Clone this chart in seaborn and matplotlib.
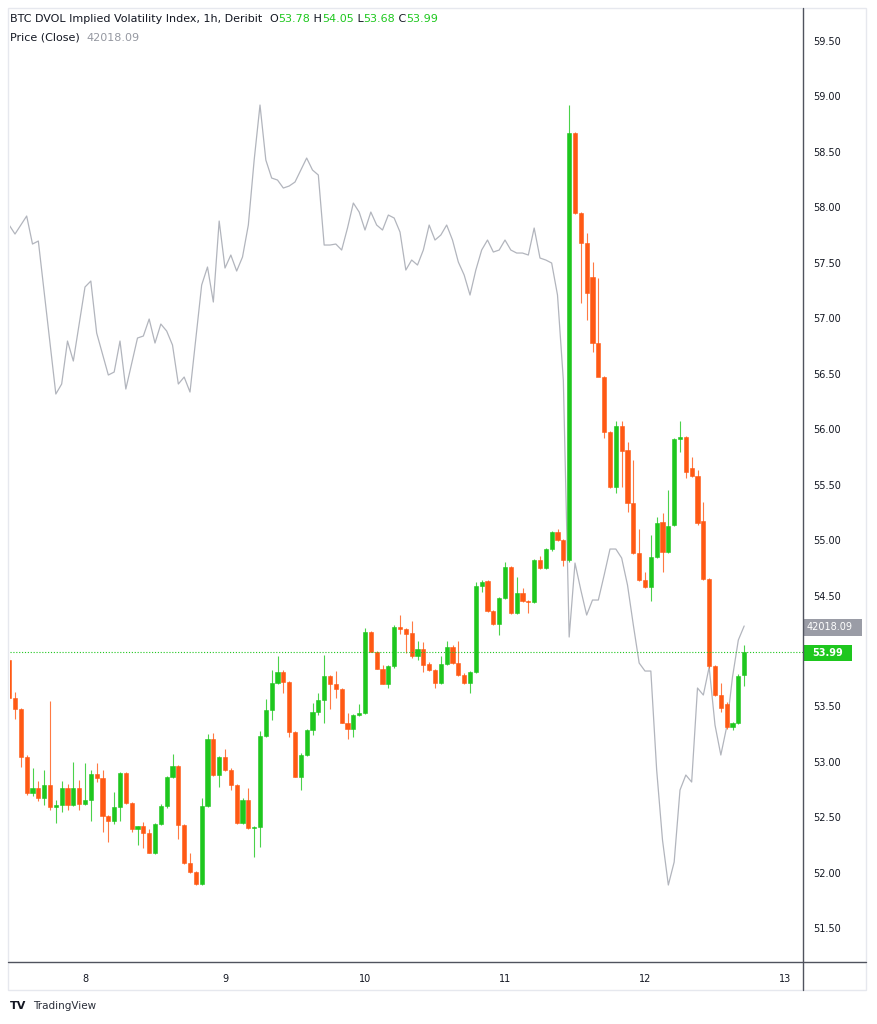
import numpy as np
import pandas as pd
import seaborn as sns
import matplotlib.pyplot as plt
import matplotlib.dates as mdates
from matplotlib.lines import Line2D
from matplotlib.patches import Rectangle

# BTC DVOL hourly candles, first bar 7th 11:00, last bar 12th 17:00
dvol_open = [53.92, 53.58, 53.48, 53.04, 52.72, 52.76, 52.67, 52.79, 52.59, 52.61,
             52.76, 52.61, 52.76, 52.62, 52.66, 52.89, 52.85, 52.51, 52.47, 52.59,
             52.90, 52.63, 52.39, 52.42, 52.36, 52.18, 52.44, 52.60, 52.86, 52.96,
             52.43, 52.09, 52.01, 51.90, 52.60, 53.21, 52.88, 53.04, 52.93, 52.79,
             52.45, 52.66, 52.40, 52.41, 53.23, 53.47, 53.71, 53.81, 53.72, 53.27,
             52.86, 53.06, 53.29, 53.45, 53.56, 53.77, 53.70, 53.66, 53.35, 53.30,
             53.42, 53.44, 54.17, 53.99, 53.84, 53.70, 53.86, 54.22, 54.20, 54.16,
             53.95, 54.02, 53.88, 53.83, 53.71, 53.88, 54.04, 53.89, 53.78, 53.71,
             53.81, 54.59, 54.63, 54.36, 54.24, 54.48, 54.76, 54.34, 54.52, 54.45,
             54.44, 54.82, 54.75, 54.92, 55.07, 55.00, 54.82, 58.67, 57.95, 57.68,
             57.37, 56.78, 56.47, 55.97, 55.48, 56.03, 55.81, 55.33, 54.88, 54.64,
             54.58, 54.85, 55.16, 54.89, 55.14, 55.91, 55.93, 55.65, 55.58, 55.17,
             54.65, 53.86, 53.60, 53.52, 53.31, 53.35, 53.78]
dvol_high = [53.95, 53.63, 53.49, 53.06, 52.94, 52.83, 52.93, 53.55, 52.66, 52.83,
             52.80, 53.00, 52.84, 52.99, 52.93, 52.99, 52.93, 52.52, 52.73, 52.91,
             52.91, 52.64, 52.42, 52.46, 52.39, 52.45, 52.62, 52.87, 53.07, 52.97,
             52.44, 52.18, 52.02, 52.67, 53.25, 53.26, 53.05, 53.12, 52.94, 52.80,
             52.67, 52.76, 52.42, 53.28, 53.57, 53.83, 53.95, 53.83, 53.73, 53.28,
             53.08, 53.30, 53.53, 53.62, 53.96, 53.78, 53.82, 53.67, 53.44, 53.43,
             53.52, 54.21, 54.18, 54.00, 53.87, 53.87, 54.23, 54.32, 54.21, 54.27,
             54.09, 54.08, 53.90, 53.84, 53.95, 54.09, 54.05, 54.09, 53.80, 53.82,
             54.62, 54.64, 54.64, 54.37, 54.49, 54.80, 54.77, 54.67, 54.57, 54.46,
             54.83, 54.86, 54.93, 55.08, 55.10, 55.01, 58.92, 58.68, 57.96, 57.77,
             57.51, 57.36, 56.48, 55.98, 56.07, 56.07, 55.88, 55.72, 55.10, 54.71,
             55.05, 55.21, 55.24, 55.45, 55.92, 56.07, 55.94, 55.75, 55.63, 55.34,
             54.66, 53.87, 53.71, 53.54, 53.36, 53.79, 54.05]
dvol_low = [53.55, 53.39, 52.95, 52.70, 52.69, 52.65, 52.61, 52.57, 52.45, 52.55,
            52.57, 52.60, 52.57, 52.61, 52.47, 52.82, 52.37, 52.28, 52.44, 52.47,
            52.62, 52.37, 52.25, 52.22, 52.18, 52.17, 52.43, 52.58, 52.85, 52.30,
            52.08, 52.00, 51.89, 51.89, 52.59, 52.87, 52.77, 52.92, 52.75, 52.44,
            52.44, 52.39, 52.14, 52.23, 53.22, 53.38, 53.70, 53.62, 53.22, 52.86,
            52.75, 53.05, 53.24, 53.42, 53.35, 53.48, 53.58, 53.35, 53.21, 53.22,
            53.41, 53.43, 53.99, 53.84, 53.70, 53.67, 53.85, 54.15, 53.98, 53.94,
            53.92, 53.81, 53.82, 53.67, 53.70, 53.87, 53.88, 53.77, 53.70, 53.62,
            53.80, 54.53, 54.35, 54.23, 54.14, 54.47, 54.33, 54.33, 54.44, 54.34,
            54.43, 54.74, 54.74, 54.90, 54.99, 54.77, 54.80, 57.94, 57.14, 56.98,
            56.70, 56.70, 55.92, 55.47, 55.42, 55.48, 55.25, 54.87, 54.63, 54.57,
            54.45, 54.84, 54.71, 54.88, 55.13, 55.79, 55.56, 55.57, 55.14, 54.64,
            53.85, 53.59, 53.45, 53.30, 53.29, 53.34, 53.68]
dvol_close = [53.58, 53.48, 53.04, 52.72, 52.76, 52.67, 52.79, 52.59, 52.61, 52.76,
              52.61, 52.76, 52.62, 52.66, 52.89, 52.85, 52.51, 52.47, 52.59, 52.90,
              52.63, 52.39, 52.42, 52.36, 52.18, 52.44, 52.60, 52.86, 52.96, 52.43,
              52.09, 52.01, 51.90, 52.60, 53.21, 52.88, 53.04, 52.93, 52.79, 52.45,
              52.66, 52.40, 52.41, 53.23, 53.47, 53.71, 53.81, 53.72, 53.27, 52.86,
              53.06, 53.29, 53.45, 53.56, 53.77, 53.70, 53.66, 53.35, 53.30, 53.42,
              53.44, 54.17, 53.99, 53.84, 53.70, 53.86, 54.22, 54.20, 54.15, 53.95,
              54.02, 53.87, 53.83, 53.71, 53.88, 54.04, 53.89, 53.78, 53.71, 53.81,
              54.59, 54.62, 54.36, 54.24, 54.48, 54.76, 54.34, 54.52, 54.45, 54.44,
              54.82, 54.75, 54.92, 55.07, 55.00, 54.82, 58.67, 57.95, 57.68, 57.23,
              56.78, 56.47, 55.97, 55.48, 56.03, 55.80, 55.33, 54.88, 54.64, 54.58,
              54.85, 55.15, 54.89, 55.13, 55.91, 55.93, 55.61, 55.58, 55.15, 54.65,
              53.86, 53.60, 53.49, 53.31, 53.35, 53.77, 53.99]

# BTC price (close) comparison line, hours counted from the first candle
price_hour = [0, 1, 3, 4, 5, 8, 9, 10, 11, 13, 14, 15, 17, 18, 19, 20, 22, 23, 24, 25,
              26, 27, 28, 29, 30, 31, 33, 34, 35, 36, 37, 38, 39, 40] + list(range(41, 127))
price_close = [43221, 43194, 43248, 43164, 43173, 42714, 42744, 42873, 42813, 43035,
               43053, 42897, 42771, 42780, 42873, 42729, 42882, 42888, 42939, 42867,
               42924, 42903, 42861, 42744, 42765, 42720, 43041, 43095, 42990, 43233,
               43092, 43131, 43083, 43125,
               43221, 43416, 43581, 43416, 43362, 43356, 43332, 43338, 43350, 43386,
               43422, 43386, 43371, 43161, 43161, 43164, 43146, 43212, 43287, 43260,
               43206, 43260, 43221, 43206, 43251, 43242, 43200, 43086, 43116, 43101,
               43146, 43221, 43176, 43191, 43221, 43176, 43110, 43071, 43011, 43086,
               43146, 43176, 43140, 43146, 43176, 43146, 43137, 43137, 43131, 43212,
               43122, 43116, 43107, 43011, 42756, 41985, 42207, 42126, 42051, 42096,
               42096, 42171, 42249, 42249, 42222, 42141, 42021, 41907, 41883, 41883,
               41586, 41376, 41241, 41310, 41526, 41571, 41550, 41832, 41811, 41895,
               41721, 41631, 41715, 41865, 41976, 42018.09]

price_ticks = [51.5, 52.0, 52.5, 53.0, 53.5, 54.0, 54.5, 55.0, 55.5, 56.0, 56.5,
               57.0, 57.5, 58.0, 58.5, 59.0, 59.5]
day_labels = ["8", "9", "10", "11", "12", "13"]

GREEN = "#1ec71e"
RED = "#ff5914"
TXT = "#131722"

sns.set_theme(style="white")
plt.rcParams["font.family"] = ["DejaVu Sans"]

W, H = 877, 1024
fig = plt.figure(figsize=(W / 100, H / 100), dpi=100)
fx = lambda x: x / W
fy = lambda y: 1 - y / H

ax = fig.add_axes([fx(10), fy(962), fx(803) - fx(10), fy(10) - fy(962)])
ax2 = ax.twinx()

start = pd.Timestamp("2022-01-07 11:00")
t_candle = mdates.date2num(pd.date_range(start, periods=len(dvol_close), freq="h"))
t_price = mdates.date2num(start + pd.to_timedelta(price_hour, unit="h"))

# grey BTC line on its own hidden scale
sns.lineplot(x=t_price, y=price_close, ax=ax2, color="#b2b5bd", linewidth=0.9)
ax2.set_ylim(41010.09, 43866.09)
ax2.set_yticks([])
ax2.set_ylabel("")

o = np.array(dvol_open)
c = np.array(dvol_close)
up = c >= o
cols = np.where(up, GREEN, RED)
ax.vlines(t_candle, dvol_low, dvol_high, colors=cols, linewidth=0.8, alpha=0.8)
ax.bar(t_candle, c - o, bottom=o, width=0.72 / 24, color=cols, edgecolor=cols, linewidth=0.4)

ax.axhline(dvol_close[-1], color=GREEN, linestyle=(0, (1, 1.6)), linewidth=0.8)

ax.set_zorder(ax2.get_zorder() + 1)
ax.patch.set_visible(False)

t8 = pd.Timestamp("2022-01-08")
ax.set_xlim(mdates.date2num(t8 - pd.Timedelta(days=75 / 140)),
            mdates.date2num(t8 + pd.Timedelta(days=718 / 140)))
ax.set_ylim(51.195, 59.78)

day_pos = mdates.date2num(pd.date_range(t8, periods=len(day_labels), freq="D"))
ax.set_xticks(day_pos)
ax.set_xticklabels(day_labels)
ax.yaxis.tick_right()
ax.set_yticks(price_ticks)
# the 54.00 level sits under the last-value tag, as on the reference
ax.set_yticklabels(["" if v == 54.0 else f"{v:.2f}" for v in price_ticks])
ax.tick_params(axis="y", length=0, pad=7, labelsize=7.0, labelcolor=TXT)
ax.tick_params(axis="x", length=0, pad=9, labelsize=7.0, labelcolor=TXT)
for a in (ax, ax2):
    for s in a.spines.values():
        s.set_visible(False)
ax.grid(False)
ax2.grid(False)

# frame and axis separators
fig.add_artist(Rectangle((fx(8), fy(990)), fx(866) - fx(8), fy(8) - fy(990),
                         transform=fig.transFigure, fill=False, ec="#e6e8ee", lw=1))
fig.add_artist(Line2D([fx(8), fx(866)], [fy(962), fy(962)], transform=fig.transFigure,
                      color="#50535e", lw=1))
fig.add_artist(Line2D([fx(803), fx(803)], [fy(8), fy(990)], transform=fig.transFigure,
                      color="#50535e", lw=1))

# last value labels on the price scale
fig.add_artist(Rectangle((fx(803), fy(636)), fx(862) - fx(803), fy(619) - fy(636),
                         transform=fig.transFigure, color="#9a9ca6", lw=0))
fig.text(fx(807), fy(627.5), f"{price_close[-1]:.2f}", color="white", fontsize=7.0,
         va="center", ha="left")
fig.add_artist(Rectangle((fx(803), fy(661)), fx(852) - fx(803), fy(645) - fy(661),
                         transform=fig.transFigure, color=GREEN, lw=0))
fig.text(fx(812), fy(653), f"{dvol_close[-1]:.2f}", color="white", fontsize=7.0,
         va="center", ha="left", fontweight="bold")

# legend in the top-left corner
renderer = fig.canvas.get_renderer()


def pieces(x, y, parts, size=8.0):
    for s, col in parts:
        t = fig.text(fx(x), fy(y), s, color=col, fontsize=size, va="center", ha="left")
        x += t.get_window_extent(renderer).width


pieces(10, 19, [("BTC DVOL Implied Volatility Index, 1h, Deribit  ", TXT),
                ("O", TXT), (f"{dvol_open[-1]:.2f}", GREEN), (" H", TXT),
                (f"{dvol_high[-1]:.2f}", GREEN), (" L", TXT), (f"{dvol_low[-1]:.2f}", GREEN),
                (" C", TXT), (f"{dvol_close[-1]:.2f}", GREEN)])
pieces(10, 38, [("Price (Close)  ", TXT), (f"{price_close[-1]:.2f}", "#9598a1")])

fig.text(fx(10), fy(1006), "TV", color=TXT, fontsize=8, fontweight="heavy", va="center")
fig.text(fx(33), fy(1006), "TradingView", color="#2a2e39", fontsize=7.5, va="center")

fig.savefig("out.png", dpi=100, facecolor="white")
